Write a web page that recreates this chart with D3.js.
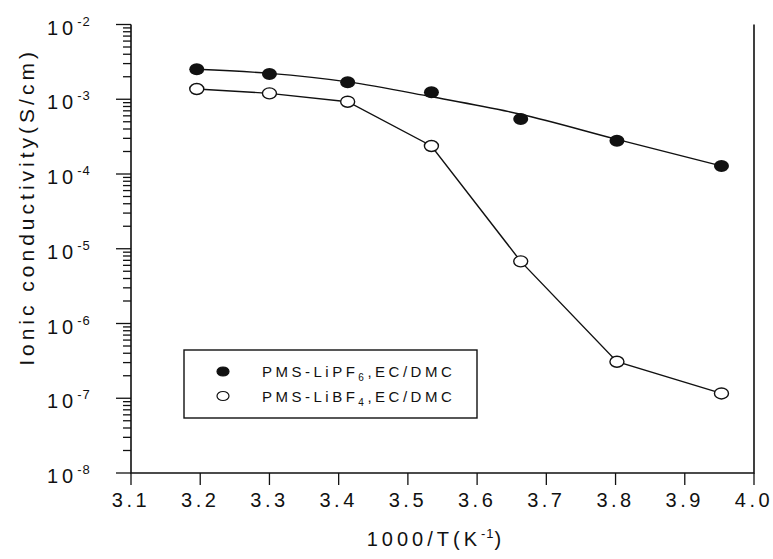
<!DOCTYPE html>
<html>
<head>
<meta charset="utf-8">
<script src="https://cdn.jsdelivr.net/npm/d3@7"></script>
<style>
  body { margin: 0; background: #fff; }
  svg text { font-family: "Liberation Sans", Arial, sans-serif; fill: #111; }
</style>
</head>
<body>
<svg id="chart" width="773" height="559"></svg>
<script>
// 1000/T values (K^-1) for the seven temperatures
const invT = [3.195, 3.300, 3.413, 3.534, 3.663, 3.802, 3.953]
// PMS-LiPF6 measured points and the smooth guide drawn through them
const lipf6 = [2.52e-3, 2.18e-3, 1.69e-3, 1.24e-3, 5.45e-4, 2.79e-4, 1.28e-4]
const lipf6Fit = [2.52e-3, 2.22e-3, 1.71e-3, 1.08e-3, 6.3e-4, 2.9e-4, 1.28e-4]
// PMS-LiBF4 measured points
const libf4 = [1.37e-3, 1.2e-3, 9.27e-4, 2.37e-4, 6.78e-6, 3.08e-7, 1.16e-7]
const xTicks = [3.1, 3.2, 3.3, 3.4, 3.5, 3.6, 3.7, 3.8, 3.9, 4.0]
const yExps = [-2, -3, -4, -5, -6, -7, -8]

const svg = d3.select('#chart')
const m = { left: 131, right: 754, top: 24.5, bottom: 473 }

const x = d3.scaleLinear().domain([3.1, 4.0]).range([m.left, m.right])
const y = d3.scaleLog().domain([1e-8, 1e-2]).range([m.bottom, m.top])

// frame: left, bottom and right lines (no top)
svg.append('path')
    .attr('d', `M${m.left},${m.top}V${m.bottom}H${m.right}V${m.top}`)
    .attr('fill', 'none').attr('stroke', '#111').attr('stroke-width', 1.6)

// y ticks, major and minor, pointing out
const g = svg.append('g').attr('stroke', '#111').attr('stroke-width', 1.3)
yExps.forEach(e => {
  g.append('line').attr('x1', m.left - 15).attr('x2', m.left)
      .attr('y1', y(Math.pow(10, e))).attr('y2', y(Math.pow(10, e)))
  if (e === -2) return
  d3.range(2, 10).forEach(k => {
    const v = k * Math.pow(10, e)
    g.append('line').attr('x1', m.left - 8).attr('x2', m.left)
        .attr('y1', y(v)).attr('y2', y(v))
  })
})

const yl = svg.append('g').selectAll('text').data(yExps).enter().append('text')
    .attr('x', 47).attr('y', d => y(Math.pow(10, d)) + 10)
    .style('font-size', '20px').style('letter-spacing', '4px')
yl.append('tspan').text('10')
yl.append('tspan').attr('dy', -9).style('font-size', '13px').style('letter-spacing', '1px')
    .text(d => String(d))

// x ticks
xTicks.forEach(t => {
  g.append('line').attr('x1', x(t)).attr('x2', x(t))
      .attr('y1', m.bottom).attr('y2', m.bottom + 12)
})
svg.append('g').selectAll('text').data(xTicks).enter().append('text')
    .attr('x', d => x(d)).attr('y', 507)
    .attr('text-anchor', 'middle')
    .style('font-size', '20px').style('letter-spacing', '3.5px')
    .text(d => d.toFixed(1))

// axis titles
const xt = svg.append('text').attr('x', 436).attr('y', 546).attr('text-anchor', 'middle')
    .style('font-size', '20px').style('letter-spacing', '4px')
xt.append('tspan').text('1000/T(K')
xt.append('tspan').attr('dy', -8).style('font-size', '13px').style('letter-spacing', '1px').text('-1')
xt.append('tspan').attr('dy', 8).text(')')

svg.append('text')
    .attr('transform', 'translate(34,207) rotate(-90)')
    .attr('text-anchor', 'middle')
    .style('font-size', '21px').style('letter-spacing', '4px')
    .text('Ionic conductivity(S/cm)')

// lines
svg.append('path').datum(invT.map((t, i) => [t, lipf6Fit[i]]))
    .attr('d', d3.line().x(d => x(d[0])).y(d => y(d[1])).curve(d3.curveMonotoneX))
    .attr('fill', 'none').attr('stroke', '#111').attr('stroke-width', 1.4)
svg.append('path').datum(invT.map((t, i) => [t, libf4[i]]))
    .attr('d', d3.line().x(d => x(d[0])).y(d => y(d[1])))
    .attr('fill', 'none').attr('stroke', '#111').attr('stroke-width', 1.4)

// markers
svg.append('g').selectAll('ellipse').data(invT.map((t, i) => [t, libf4[i]])).enter()
    .append('ellipse').attr('cx', d => x(d[0])).attr('cy', d => y(d[1]))
    .attr('rx', 7).attr('ry', 5.5).attr('fill', '#fff').attr('stroke', '#111').attr('stroke-width', 1.4)
svg.append('g').selectAll('ellipse').data(invT.map((t, i) => [t, lipf6[i]])).enter()
    .append('ellipse').attr('cx', d => x(d[0])).attr('cy', d => y(d[1]))
    .attr('rx', 7.5).attr('ry', 6).attr('fill', '#111')

// legend
const lg = svg.append('g').attr('transform', 'translate(184,350)')
lg.append('rect').attr('width', 293).attr('height', 68)
    .attr('fill', '#fff').attr('stroke', '#111').attr('stroke-width', 1.4)
const items = [
  { fill: '#111', label: 'PMS-LiPF', sub: '6' },
  { fill: '#fff', label: 'PMS-LiBF', sub: '4' }
]
items.forEach((it, i) => {
  const cy = 21.5 + i * 24.5
  lg.append('ellipse').attr('cx', 39).attr('cy', cy).attr('rx', 6).attr('ry', 4.5)
      .attr('fill', it.fill).attr('stroke', '#111').attr('stroke-width', 1.2)
  const t = lg.append('text').attr('x', 78).attr('y', cy + 5.5)
      .style('font-size', '15px').style('letter-spacing', '3.5px')
  t.append('tspan').text(it.label)
  t.append('tspan').attr('dy', 4).style('font-size', '10px').text(it.sub)
  t.append('tspan').attr('dy', -4).text(',EC/DMC')
})
</script>
</body>
</html>
